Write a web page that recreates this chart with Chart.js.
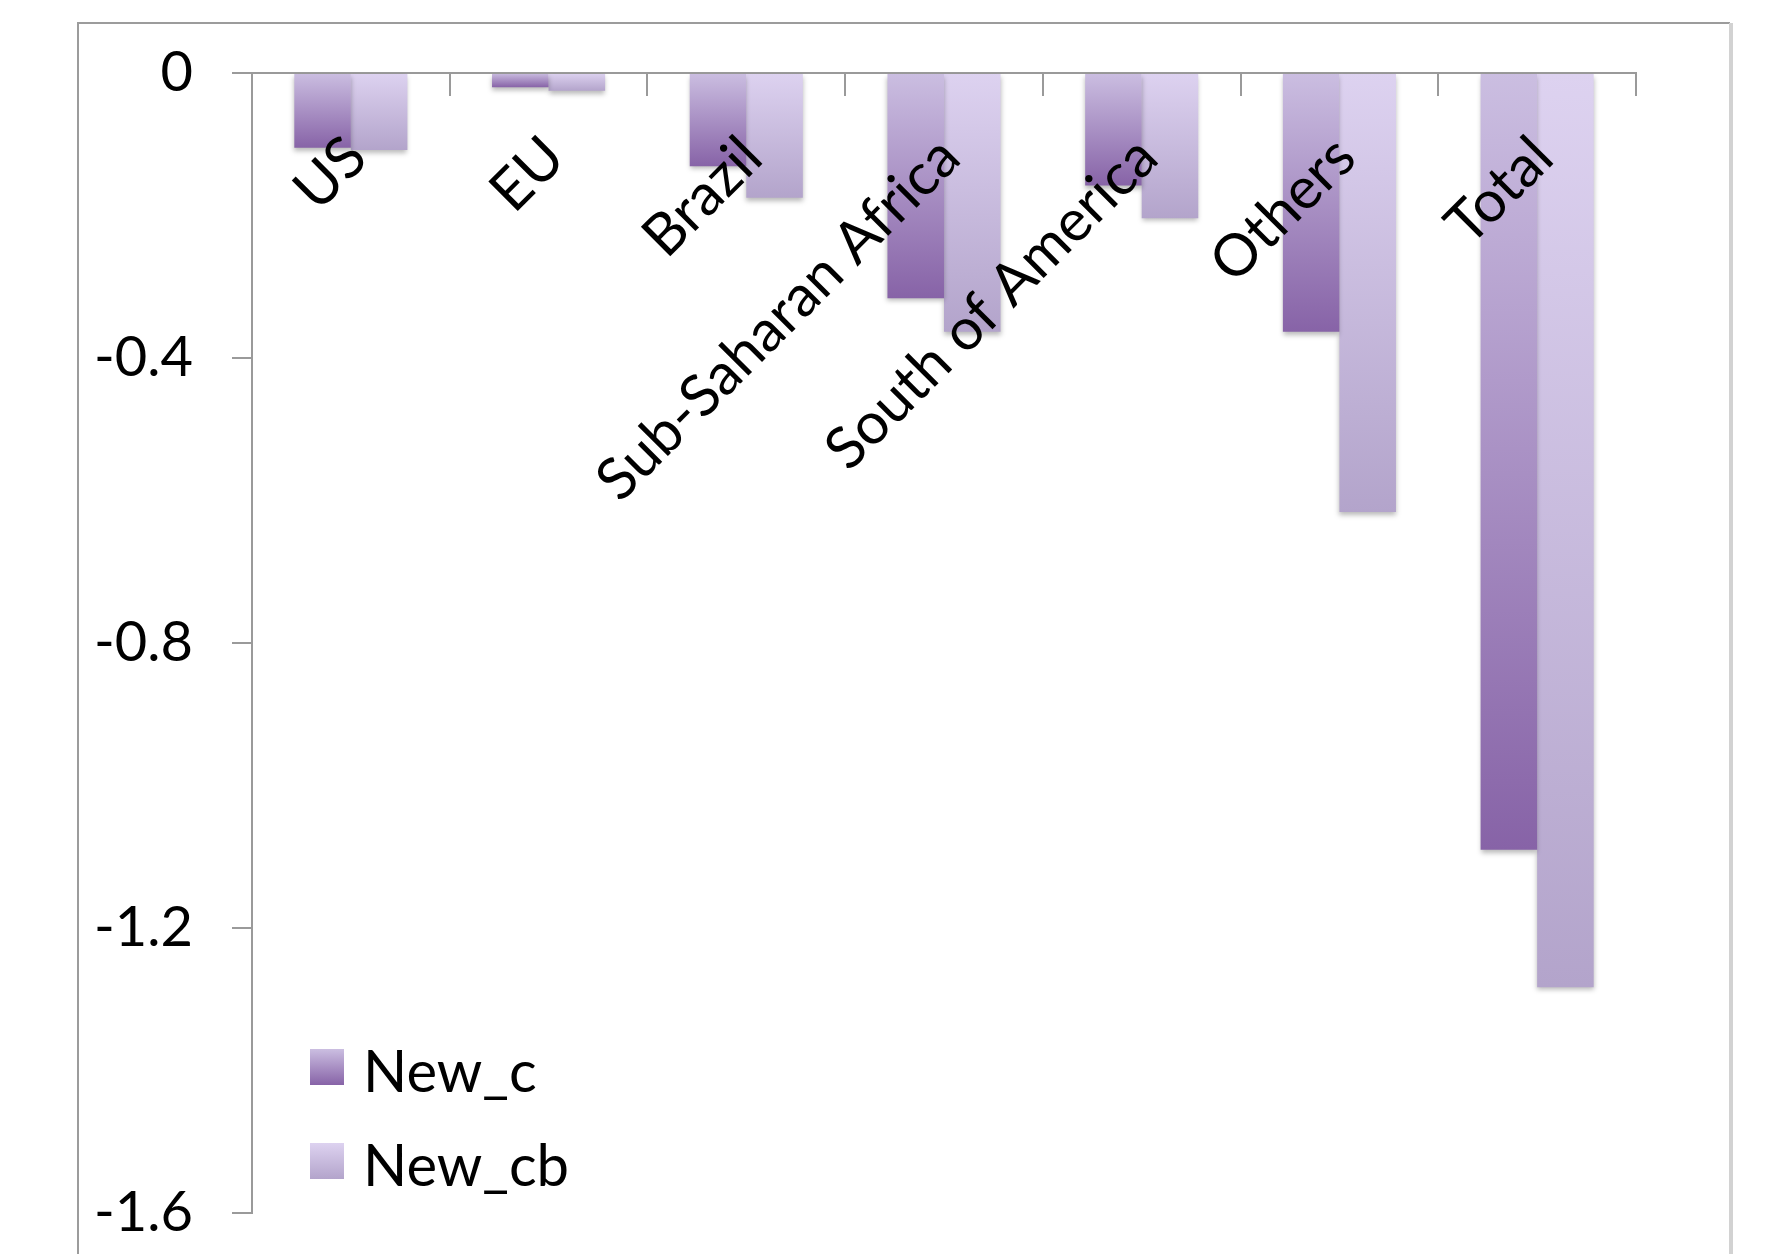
<!DOCTYPE html>
<html>
<head>
<meta charset="utf-8">
<title>New_c vs New_cb by region</title>
<script src="https://cdn.jsdelivr.net/npm/chart.js@4/dist/chart.umd.min.js"></script>
<style>
  html, body { margin: 0; padding: 0; background: #ffffff; overflow: hidden; }
  #wrap { position: relative; width: 1778px; height: 1254px; }
  canvas { display: block; }
</style>
</head>
<body>
<div id="wrap"><canvas id="chart" width="1778" height="1254"></canvas></div>
<script>
// Regions on the category axis
const categories = ['US', 'EU', 'Brazil', 'Sub-Saharan Africa', 'South of America', 'Others', 'Total'];

// Series values
const newC  = [-0.105, -0.020, -0.131, -0.316, -0.158, -0.363, -1.090];
const newCb = [-0.108, -0.025, -0.175, -0.363, -0.204, -0.616, -1.283];

// Value axis ticks
const yTicks = [0, -0.4, -0.8, -1.2, -1.6];

const FONT = 'Lato, "Open Sans", sans-serif';
const AXIS_GREY = '#9a9a9a';

// Vertical gradient per bar: light near the zero line, deep at the bar's end
const shadeC  = ['#cbbee1', '#8763a7'];
const shadeCb = ['#ddd2f0', '#b3a4cb'];

function barFill(stops) {
  return function (ctx) {
    const chart = ctx.chart;
    const y = chart.scales && chart.scales.y;
    if (!y || ctx.type !== 'data') return stops[1];
    const v = ctx.parsed ? ctx.parsed.y : ctx.raw;
    const p0 = y.getPixelForValue(0);
    const p1 = y.getPixelForValue(v);
    if (!isFinite(p0) || !isFinite(p1) || p0 === p1) return stops[1];
    const g = chart.ctx.createLinearGradient(0, p0, 0, p1);
    g.addColorStop(0, stops[0]);
    g.addColorStop(1, stops[1]);
    return g;
  };
}

// Outer frame around the plot
const framePlugin = {
  id: 'frame',
  beforeDraw(chart) {
    const c = chart.ctx;
    c.save();
    c.fillStyle = '#ffffff';
    c.fillRect(0, 0, chart.width, chart.height);
    c.strokeStyle = '#9c9c9c';
    c.lineWidth = 2;
    c.beginPath();
    c.moveTo(78, chart.height + 5);
    c.lineTo(78, 23);
    c.lineTo(1730, 23);
    c.stroke();
    c.strokeStyle = '#d2d2d2';
    c.lineWidth = 4;
    c.beginPath();
    c.moveTo(1731, 23);
    c.lineTo(1731, chart.height + 5);
    c.stroke();
    c.restore();
  }
};

// Soft drop shadow under the bars
const shadowPlugin = {
  id: 'barShadow',
  beforeDatasetsDraw(chart) {
    const c = chart.ctx;
    c.save();
    c.shadowColor = 'rgba(0,0,0,0.28)';
    c.shadowBlur = 5;
    c.shadowOffsetX = 0;
    c.shadowOffsetY = 3;
  },
  afterDatasetsDraw(chart) {
    chart.ctx.restore();
  }
};

// Legend in the lower-left corner of the plot
const legendPlugin = {
  id: 'cornerLegend',
  afterDraw(chart) {
    const c = chart.ctx;
    const area = chart.chartArea;
    const x0 = area.left + 58;
    const rows = [area.bottom - 164, area.bottom - 70];
    c.save();
    chart.data.datasets.forEach((ds, i) => {
      const top = rows[i];
      const g = c.createLinearGradient(0, top, 0, top + 36);
      g.addColorStop(0, ds.swatch[0]);
      g.addColorStop(1, ds.swatch[1]);
      c.fillStyle = g;
      c.fillRect(x0, top, 34, 36);
      c.fillStyle = '#000000';
      c.font = '58px ' + FONT;
      c.textAlign = 'left';
      c.textBaseline = 'alphabetic';
      c.fillText(ds.label, x0 + 53, top + 43);
    });
    c.restore();
  }
};

new Chart(document.getElementById('chart'), {
  type: 'bar',
  data: {
    labels: categories,
    datasets: [
      { label: 'New_c',  data: newC,  backgroundColor: barFill(shadeC),  swatch: shadeC,
        borderWidth: 0, categoryPercentage: 0.572, barPercentage: 1.0 },
      { label: 'New_cb', data: newCb, backgroundColor: barFill(shadeCb), swatch: shadeCb,
        borderWidth: 0, categoryPercentage: 0.572, barPercentage: 1.0 }
    ]
  },
  options: {
    responsive: false,
    devicePixelRatio: 1,
    animation: false,
    layout: { padding: { left: 0, right: 142, top: 73, bottom: 41 } },
    plugins: {
      legend: { display: false },
      tooltip: { enabled: false }
    },
    scales: {
      x: {
        position: { y: 0 },
        offset: true,
        grid: {
          offset: true,
          drawOnChartArea: false,
          drawTicks: true,
          tickLength: 22,
          color: AXIS_GREY,
          lineWidth: 2
        },
        border: { display: true, color: AXIS_GREY, width: 2 },
        ticks: {
          z: 1,
          autoSkip: false,
          maxRotation: 45,
          minRotation: 45,
          padding: 28,
          labelOffset: 6,
          color: '#000000',
          font: { family: FONT, size: 58 }
        }
      },
      y: {
        min: -1.6,
        max: 0,
        afterFit(scale) {
          scale.width = 252;
          scale.paddingTop = 0;
          scale.paddingBottom = 0;
        },
        afterBuildTicks(scale) { scale.ticks = yTicks.map(v => ({ value: v })); },
        grid: {
          drawOnChartArea: false,
          drawTicks: true,
          tickLength: 20,
          color: AXIS_GREY,
          lineWidth: 2
        },
        border: { display: true, color: AXIS_GREY, width: 2 },
        ticks: {
          padding: 39,
          color: '#000000',
          font: { family: FONT, size: 56 },
          callback: v => String(Math.round(v * 10) / 10)
        }
      }
    }
  },
  plugins: [framePlugin, shadowPlugin, legendPlugin]
});
</script>
</body>
</html>
